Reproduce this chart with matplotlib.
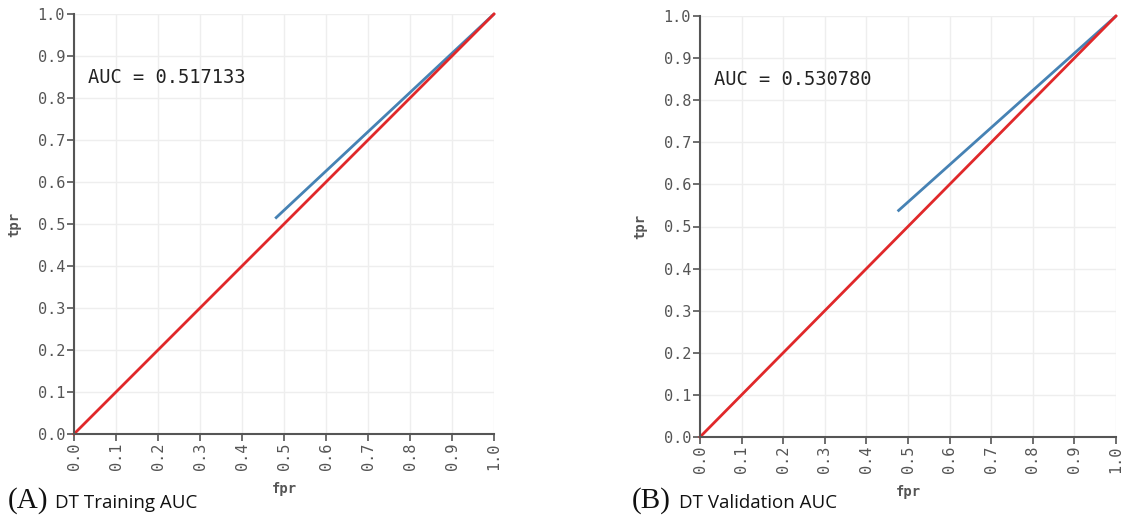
import matplotlib
matplotlib.use("Agg")
import matplotlib.pyplot as plt
import numpy as np

# Data
ticks = [0.0, 0.1, 0.2, 0.3, 0.4, 0.5, 0.6, 0.7, 0.8, 0.9, 1.0]
tick_labels = ["0.0", "0.1", "0.2", "0.3", "0.4", "0.5", "0.6", "0.7", "0.8", "0.9", "1.0"]
diag_x = [0.0, 1.0]
diag_y = [0.0, 1.0]
train_fpr = [0.479, 1.0]
train_tpr = [0.513, 1.0]
val_fpr = [0.475, 1.0]
val_tpr = [0.536, 1.0]
train_auc = "AUC = 0.517133"
val_auc = "AUC = 0.530780"
panel_letters = ["(A)", "(B)"]
panel_titles = ["DT Training AUC", "DT Validation AUC"]

W, H = 1125, 516
fig = plt.figure(figsize=(W / 100, H / 100), dpi=100)

axes_px = [(74, 494, 434, 14), (700, 1116, 437, 16)]
curves = [(train_fpr, train_tpr, train_auc), (val_fpr, val_tpr, val_auc)]
caption_x = [8, 632]

mono = "DejaVu Sans Mono"
gray = "#555555"

for i, ((l, r, b, t), (fx, ty, auc)) in enumerate(zip(axes_px, curves)):
    ax = fig.add_axes([l / W, 1 - b / H, (r - l) / W, (b - t) / H])
    ax.set_xlim(0, 1)
    ax.set_ylim(0, 1)
    ax.set_xticks(ticks)
    ax.set_yticks(ticks)
    ax.set_xticklabels(tick_labels, rotation=90, fontfamily=mono, fontsize=11, color=gray)
    ax.set_yticklabels(tick_labels, fontfamily=mono, fontsize=11, color=gray)
    ax.grid(True, color="#eeeeee", linewidth=1.0)
    ax.set_axisbelow(True)
    for s in ["top", "right"]:
        ax.spines[s].set_visible(False)
    for s in ["left", "bottom"]:
        ax.spines[s].set_color(gray)
        ax.spines[s].set_linewidth(1.5)
    ax.tick_params(colors=gray, length=5, width=1.2, pad=1.5)
    ax.plot(fx, ty, color="#4682b4", linewidth=2, solid_capstyle="butt", clip_on=False)
    ax.plot(diag_x, diag_y, color="#e0282a", linewidth=2, clip_on=False)
    ax.text(0.033, 0.848, auc, fontfamily=mono, fontsize=13.5, color="#222222",
            ha="left", va="center")
    ax.set_xlabel("fpr", fontfamily=mono, fontsize=10, fontweight="bold", color=gray, labelpad=8)
    ax.set_ylabel("tpr", fontfamily=mono, fontsize=10, fontweight="bold", color=gray, labelpad=12)
    cx = caption_x[i]
    fig.text(cx / W, 1 - 508 / H, panel_letters[i], fontfamily="Liberation Serif",
             fontsize=21, color="#111111", ha="left", va="baseline")
    fig.text((cx + 47) / W, 1 - 508 / H, panel_titles[i], fontfamily="Open Sans",
             fontsize=13.5, color="#111111", ha="left", va="baseline")

fig.savefig("out.png", dpi=100, facecolor="white")
